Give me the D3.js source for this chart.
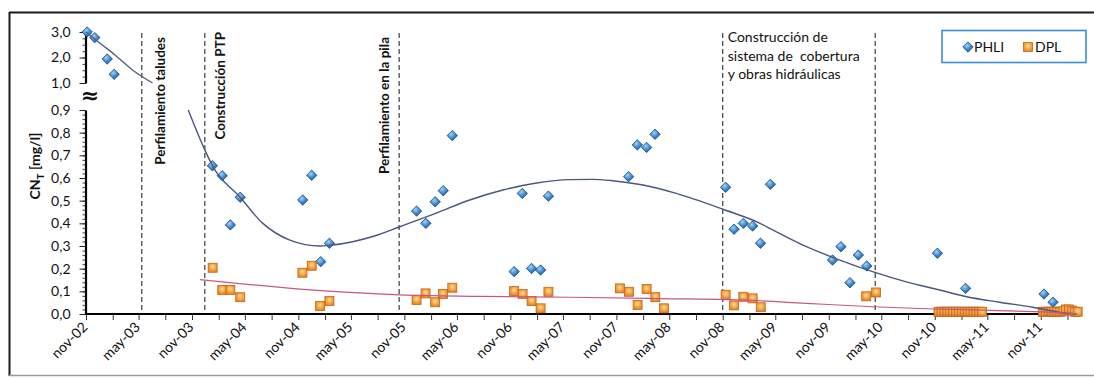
<!DOCTYPE html>
<html>
<head>
<meta charset="utf-8">
<script src="https://cdn.jsdelivr.net/npm/d3@7"></script>
<style>
  html, body { margin: 0; padding: 0; background: #fff; }
  svg { display: block; font-family: Lato, "Open Sans", "DejaVu Sans", sans-serif; }
</style>
</head>
<body>
<svg id="chart" width="1094" height="379"></svg>
<script>
// ---- Data -------------------------------------------------------------
// Total cyanide (CN_T, mg/l) in the PHLI and DPL monitoring points
const phliDates = [
  "2002-11-05","2002-12-01","2003-01-13","2003-02-06",
  "2004-01-10","2004-02-13","2004-03-12","2004-04-15",
  "2004-11-16","2004-12-17","2005-01-17","2005-02-16",
  "2005-12-13","2006-01-14","2006-02-15","2006-03-15","2006-04-15",
  "2006-11-14","2006-12-12","2007-01-13","2007-02-13","2007-03-12",
  "2007-12-13","2008-01-12","2008-02-13","2008-03-13",
  "2008-11-11","2008-12-10","2009-01-11","2009-02-12","2009-03-11","2009-04-14",
  "2009-11-14","2009-12-13","2010-01-13","2010-02-11","2010-03-12",
  "2010-11-10","2011-02-15","2011-11-12","2011-12-13"
];
const phliValues = [
  3.00, 2.78, 1.94, 1.34,
  0.654, 0.610, 0.393, 0.515,
  0.503, 0.612, 0.231, 0.312,
  0.454, 0.400, 0.495, 0.544, 0.787,
  0.187, 0.532, 0.201, 0.194, 0.520,
  0.606, 0.746, 0.735, 0.793,
  0.559, 0.374, 0.400, 0.388, 0.312, 0.572,
  0.238, 0.297, 0.138, 0.260, 0.212,
  0.268, 0.113, 0.088, 0.052
];

const dplDates = [
  "2004-01-11","2004-02-13","2004-03-12","2004-04-15",
  "2004-11-15","2004-12-17","2005-01-15","2005-02-16",
  "2005-12-13","2006-01-13","2006-02-15","2006-03-14","2006-04-15",
  "2006-11-14","2006-12-13","2007-01-13","2007-02-13","2007-03-12",
  "2007-11-13","2007-12-14","2008-01-13","2008-02-13","2008-03-14","2008-04-13",
  "2008-11-11","2008-12-10","2009-01-11","2009-02-12","2009-03-12",
  "2010-03-10","2010-04-13",
  "2010-11-14","2010-11-24","2010-12-04","2010-12-14","2010-12-24","2011-01-03",
  "2011-01-13","2011-01-23","2011-02-02","2011-02-12","2011-02-22","2011-03-04",
  "2011-03-14","2011-03-24","2011-04-03","2011-04-13",
  "2011-11-08","2011-11-18","2011-11-28","2011-12-08","2011-12-18","2011-12-28",
  "2012-01-07","2012-01-17","2012-01-27","2012-02-06","2012-02-16","2012-02-26","2012-03-07"
];
const dplValues = [
  0.204, 0.106, 0.106, 0.074,
  0.182, 0.213, 0.035, 0.057,
  0.062, 0.091, 0.052, 0.088, 0.116,
  0.101, 0.088, 0.057, 0.025, 0.098,
  0.113, 0.098, 0.040, 0.110, 0.074, 0.025,
  0.085, 0.038, 0.076, 0.069, 0.030,
  0.078, 0.095,
  0.010, 0.010, 0.010, 0.010, 0.010, 0.010,
  0.010, 0.010, 0.010, 0.010, 0.010, 0.010,
  0.010, 0.010, 0.010, 0.010,
  0.010, 0.010, 0.010, 0.010, 0.010, 0.010,
  0.010, 0.012, 0.020, 0.020, 0.015, 0.010, 0.010
];

// Trend curves (upper break segment and main segment for PHLI, DPL)
const phliTrendTopDates  = ["2002-11-01","2002-12-18","2003-02-09","2003-04-10","2003-06-18"];
const phliTrendTopValues = [3.00, 2.57, 2.10, 1.51, 1.00];

const phliTrendDates = [
  "2003-10-19","2003-12-15","2004-01-12","2004-04-13","2004-07-01","2004-10-03",
  "2005-01-15","2005-02-18","2005-05-07","2005-07-21","2005-10-16","2006-02-21",
  "2006-06-14","2006-10-06","2007-01-30","2007-05-23","2007-08-11","2007-10-19",
  "2008-02-01","2008-05-25","2008-11-02","2009-03-08","2009-04-22","2009-08-16",
  "2009-12-09","2010-04-01","2010-07-26","2010-11-18","2011-02-19","2011-06-12",
  "2011-10-04","2012-01-28","2012-03-04"
];
const phliTrendValues = [
  0.900, 0.724, 0.650, 0.517, 0.401, 0.326,
  0.300, 0.303, 0.319, 0.344, 0.385, 0.446,
  0.503, 0.547, 0.578, 0.593, 0.594, 0.588,
  0.569, 0.532, 0.462, 0.401, 0.371, 0.297,
  0.238, 0.187, 0.142, 0.106, 0.076, 0.052,
  0.030, 0.003, 0.000
];

const dplTrendDates = [
  "2003-11-28","2004-05-17","2004-11-07","2005-04-27","2005-10-17","2006-07-18",
  "2007-05-23","2008-03-28","2008-12-31","2009-08-16","2010-04-01","2010-11-18",
  "2011-06-12","2011-11-09","2012-03-04"
];
const dplTrendValues = [
  0.152, 0.130, 0.110, 0.095, 0.084, 0.078,
  0.074, 0.068, 0.062, 0.047, 0.032, 0.021,
  0.015, 0.009, 0.002
];

// Works carried out on the site
const eventDates  = ["2003-05-12","2003-12-15","2005-10-14","2008-11-01","2010-04-10"];
const eventLabels = ["Perfilamiento taludes","Construcción PTP","Perfilamiento en la pila",
                     "Construcción de|sistema de  cobertura|y obras hidráulicas", ""];

const yTicksLow  = [0,0.1,0.2,0.3,0.4,0.5,0.6,0.7,0.8,0.9];
const yTicksHigh = [1,2,3];
const monthNames = { 10: "nov", 4: "may" };
const seriesNames = ["PHLI","DPL"];

// ---- Setup -------------------------------------------------------------
const parse = d3.timeParse("%Y-%m-%d");
const svg = d3.select("#chart");

const x = d3.scaleTime()
  .domain([parse("2002-11-01"), parse("2012-03-15")])
  .range([86, 1080]);
const yLow  = d3.scaleLinear().domain([0, 0.9]).range([314, 110]);
const yHigh = d3.scaleLinear().domain([1, 3]).range([83, 32]);
const yv = v => (v >= 1 ? yHigh(v) : yLow(v));

const fmtNum = d => d.toFixed(1).replace(".", ",");
const fontStack = "Lato, 'Open Sans', sans-serif";

// gradients for the markers
const defs = svg.append("defs");
const gBlue = defs.append("radialGradient").attr("id", "gBlue").attr("cx", "40%").attr("cy", "35%").attr("r", "70%");
gBlue.append("stop").attr("offset", "0%").attr("stop-color", "#9fd3f7");
gBlue.append("stop").attr("offset", "55%").attr("stop-color", "#3d88cf");
gBlue.append("stop").attr("offset", "100%").attr("stop-color", "#1c5596");
const gOrange = defs.append("radialGradient").attr("id", "gOrange").attr("cx", "50%").attr("cy", "40%").attr("r", "70%");
gOrange.append("stop").attr("offset", "0%").attr("stop-color", "#ffe3a0");
gOrange.append("stop").attr("offset", "45%").attr("stop-color", "#f8a845");
gOrange.append("stop").attr("offset", "100%").attr("stop-color", "#e07a1e");

// ---- Frame -------------------------------------------------------------
svg.append("line").attr("x1", 9).attr("x2", 1094).attr("y1", 12.5).attr("y2", 12.5)
  .attr("stroke", "#1a1a1a").attr("stroke-width", 2);
svg.append("line").attr("x1", 9.5).attr("x2", 9.5).attr("y1", 12).attr("y2", 376)
  .attr("stroke", "#1a1a1a").attr("stroke-width", 2);
svg.append("line").attr("x1", 9).attr("x2", 1094).attr("y1", 375.5).attr("y2", 375.5)
  .attr("stroke", "#9a9a9a").attr("stroke-width", 1.5);

// ---- Event lines and labels -------------------------------------------
const evX = eventDates.map(d => x(parse(d)));
svg.append("g").selectAll("line").data(evX).join("line")
  .attr("x1", d => d).attr("x2", d => d)
  .attr("y1", 33).attr("y2", 314)
  .attr("stroke", "#4a4a4a").attr("stroke-width", 1.3)
  .attr("stroke-dasharray", "5,3");

const evText = svg.append("g").attr("fill", "#111").style("font-size", "13.5px");
// rotated labels next to the lines
[[0, 23, 37], [1, 20, 32], [2, -10, 37]].forEach(([i, dx, top]) => {
  evText.append("text")
    .attr("transform", `translate(${evX[i] + dx},${top}) rotate(-90)`)
    .attr("text-anchor", "end")
    .style("font-weight", "bold")
    .text(eventLabels[i]);
});
// multi-line label to the right of the fourth line
const ml = evText.append("text").attr("x", evX[3] + 5).attr("y", 42).style("font-size", "14px");
eventLabels[3].split("|").forEach((s, k) => {
  ml.append("tspan").attr("x", evX[3] + 5).attr("dy", k === 0 ? 0 : 18.5)
    .attr("xml:space", "preserve").style("white-space", "pre").text(s);
});

// ---- Axes --------------------------------------------------------------
const axisFont = "14px";

// x axis: a tick every three months from nov-02, labels on nov and may
const xTicks = d3.timeMonth.range(parse("2002-11-01"), parse("2012-03-15"), 3);
const xAxis = d3.axisBottom(x)
  .tickValues(xTicks)
  .tickSize(6)
  .tickSizeOuter(0)
  .tickFormat(d => {
    const name = monthNames[d.getMonth()];
    return name ? name + "-" + d3.timeFormat("%y")(d) : "";
  });
const gx = svg.append("g").attr("transform", "translate(0,314)").call(xAxis);
gx.select(".domain").remove();
gx.selectAll(".tick line").attr("stroke", "#333").attr("stroke-width", 1);
gx.selectAll(".tick text")
  .attr("x", 0).attr("y", 0).attr("dy", null)
  .attr("text-anchor", "end")
  .attr("transform", "translate(2,14) rotate(-45)")
  .attr("fill", "#111")
  .style("font-size", axisFont)
  .style("font-family", fontStack);
svg.append("line").attr("x1", 85).attr("x2", x.range()[1]).attr("y1", 314).attr("y2", 314)
  .attr("stroke", "#000").attr("stroke-width", 2.2);

// y axis, lower segment
const yMinorLow = d3.range(0, 0.9001, 0.02);
const gyMinor = svg.append("g").attr("transform", "translate(85.5,0)")
  .call(d3.axisLeft(yLow).tickValues(yMinorLow).tickSize(3).tickFormat(""));
gyMinor.select(".domain").remove();
gyMinor.selectAll(".tick line").attr("stroke", "#444");

const gyLow = svg.append("g").attr("transform", "translate(85.5,0)")
  .call(d3.axisLeft(yLow).tickValues(yTicksLow).tickSize(6).tickSizeOuter(0).tickFormat(fmtNum));
gyLow.select(".domain").attr("stroke", "#000").attr("stroke-width", 2.2);
gyLow.selectAll(".tick line").attr("stroke", "#222");
gyLow.selectAll(".tick text").attr("x", -15).attr("fill", "#111")
  .style("font-size", axisFont).style("font-family", fontStack);

// y axis, upper segment above the break
const gyMinorHigh = svg.append("g").attr("transform", "translate(85.5,0)")
  .call(d3.axisLeft(yHigh).tickValues(d3.range(1, 3.001, 0.25)).tickSize(3).tickFormat(""));
gyMinorHigh.select(".domain").remove();
gyMinorHigh.selectAll(".tick line").attr("stroke", "#444");

const gyHigh = svg.append("g").attr("transform", "translate(85.5,0)")
  .call(d3.axisLeft(yHigh).tickValues(yTicksHigh).tickSize(6).tickSizeOuter(0).tickFormat(fmtNum));
gyHigh.select(".domain").attr("stroke", "#000").attr("stroke-width", 2.2);
gyHigh.selectAll(".tick line").attr("stroke", "#222");
gyHigh.selectAll(".tick text").attr("x", -15).attr("fill", "#111")
  .style("font-size", axisFont).style("font-family", fontStack);

// break mark
svg.append("text").attr("x", 90).attr("y", 103).attr("text-anchor", "middle")
  .style("font-size", "22px").style("font-weight", "bold").attr("fill", "#111")
  .style("font-family", "'DejaVu Sans', sans-serif").text("≈");

// y axis title: CN_T [mg/l]
const yTitle = svg.append("text")
  .attr("transform", "translate(40,166) rotate(-90)")
  .attr("text-anchor", "middle")
  .style("font-size", "14px").style("font-weight", "bold").attr("fill", "#111");
yTitle.append("tspan").text("CN");
yTitle.append("tspan").attr("dy", 4).style("font-size", "10px").text("T");
yTitle.append("tspan").attr("dy", -4).text(" [mg/l]");

// ---- Markers -----------------------------------------------------------
const phli = phliDates.map((d, i) => ({ date: parse(d), v: phliValues[i] }));
const dpl  = dplDates.map((d, i) => ({ date: parse(d), v: dplValues[i] }));

const diamond = "M0,-5.2L5.2,0L0,5.2L-5.2,0Z";

svg.append("g").selectAll("path").data(phli).join("path")
  .attr("d", diamond)
  .attr("transform", d => `translate(${x(d.date)},${yv(d.v)})`)
  .attr("fill", "url(#gBlue)")
  .attr("stroke", "#1a4a80").attr("stroke-width", 0.8);

svg.append("g").selectAll("rect").data(dpl).join("rect")
  .attr("x", d => x(d.date) - 4.5).attr("y", d => yLow(d.v) - 4.5)
  .attr("width", 9).attr("height", 9)
  .attr("fill", "url(#gOrange)")
  .attr("stroke", "#c0661c").attr("stroke-width", 0.8);

// ---- Trend lines -------------------------------------------------------
const lineGen = d3.line()
  .x(d => x(d[0]))
  .y(d => d[2](d[1]))
  .curve(d3.curveMonotoneX);
const toPts = (dates, vals, sc) => dates.map((d, i) => [parse(d), vals[i], sc]);

svg.append("path").datum(toPts(phliTrendTopDates, phliTrendTopValues, yHigh))
  .attr("d", lineGen).attr("fill", "none").attr("stroke", "#56607f").attr("stroke-width", 1.4);
svg.append("path").datum(toPts(phliTrendDates, phliTrendValues, yLow))
  .attr("d", lineGen).attr("fill", "none").attr("stroke", "#4a5582").attr("stroke-width", 1.4);
svg.append("path").datum(toPts(dplTrendDates, dplTrendValues, yLow))
  .attr("d", lineGen).attr("fill", "none").attr("stroke", "#c9558a").attr("stroke-width", 1.2);

// ---- Legend ------------------------------------------------------------
const lg = svg.append("g");
lg.append("rect").attr("x", 942).attr("y", 30.5).attr("width", 144).attr("height", 32)
  .attr("fill", "#fff").attr("stroke", "#3a8ddb").attr("stroke-width", 1.6);
lg.append("path").attr("d", diamond).attr("transform", "translate(968,47)")
  .attr("fill", "url(#gBlue)").attr("stroke", "#1a4a80").attr("stroke-width", 0.8);
lg.append("text").attr("x", 974).attr("y", 52).style("font-size", "14px").attr("fill", "#111").text(seriesNames[0]);
lg.append("rect").attr("x", 1023.5).attr("y", 42.5).attr("width", 9).attr("height", 9)
  .attr("fill", "url(#gOrange)").attr("stroke", "#c0661c").attr("stroke-width", 0.8);
lg.append("text").attr("x", 1035).attr("y", 52).style("font-size", "14px").attr("fill", "#111").text(seriesNames[1]);
</script>
</body>
</html>
